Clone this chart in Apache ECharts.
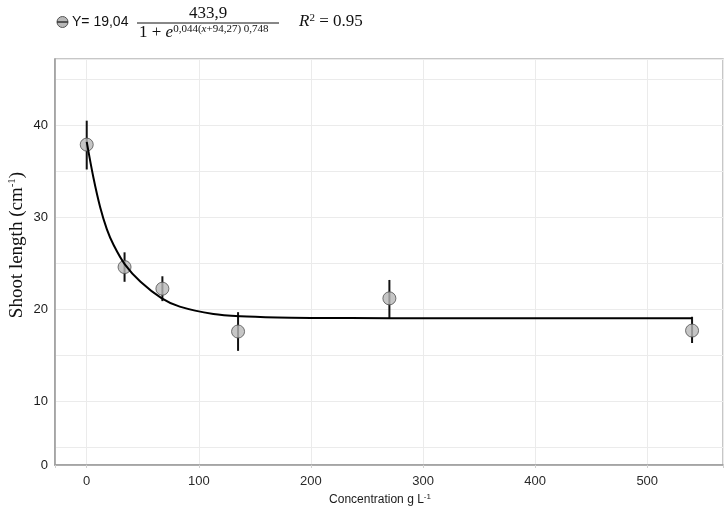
<!DOCTYPE html>
<html>
<head>
<meta charset="utf-8">
<script src="https://cdn.jsdelivr.net/npm/echarts@6/dist/echarts.min.js"></script>
<style>
  html, body { margin: 0; padding: 0; background: #ffffff; }
  #chart { width: 727px; height: 512px; }
</style>
</head>
<body>
<div id="chart"></div>
<script>
// Observed means and error bars
const concentration = [0, 33.75, 67.5, 135, 270, 540];
const shootLength   = [37.9, 24.6, 22.25, 17.6, 21.2, 17.7];
const errLow        = [35.2, 23.0, 20.9, 15.5, 19.0, 16.35];
const errHigh       = [40.5, 26.2, 23.6, 19.7, 23.2, 19.2];

// Fitted curve
const fitX = [0, 6, 12, 18, 24, 34, 48, 67, 83, 113, 137, 170, 200, 270, 400, 540];
const fitY = [38.2, 34.3, 31.1, 28.7, 27.0, 24.9, 23.0, 21.2, 20.3, 19.5, 19.25, 19.12, 19.08, 19.05, 19.04, 19.04];

const yMin = 3.1, yMax = 47.2;
const xMin = -28.3, xMax = 567.6;

const chart = echarts.init(document.getElementById('chart'), null, { renderer: 'canvas' });

const pointData = concentration.map((x, i) => [x, shootLength[i]]);
const errData = concentration.map((x, i) => [x, errLow[i], errHigh[i]]);
const fitData = fitX.map((x, i) => [x, fitY[i]]);

const option = {
  backgroundColor: '#ffffff',
  animation: false,
  grid: {
    left: 55, right: 4, top: 59, bottom: 47,
    outerBoundsMode: 'none',
    containLabel: false,
    show: true, borderColor: '#b5b5b5', borderWidth: 1.5, backgroundColor: '#ffffff'
  },
  xAxis: {
    type: 'value',
    min: xMin, max: xMax,
    splitNumber: 6,
    name: 'Concentration g L{sup|-1}',
    nameLocation: 'middle',
    nameGap: 26,
    nameTextStyle: {
      fontFamily: 'Liberation Sans Narrow, Liberation Sans, Arial', fontSize: 12, color: '#1a1a1a',
      padding: [0, 18, 0, 0],
      rich: { sup: { fontSize: 8, verticalAlign: 'top', padding: [0, 0, 6, 0], fontFamily: 'Liberation Sans', color: '#1a1a1a' } }
    },
    axisLine: { show: true, onZero: false, lineStyle: { color: '#9a9a9a', width: 1.5 } },
    axisTick: { show: true, length: 3, lineStyle: { color: '#d0d0d0', width: 1 } },
    axisLabel: {
      margin: 10, fontSize: 13, color: '#2a2a2a',
      fontFamily: 'Liberation Sans Narrow, Liberation Sans, Arial',
      showMinLabel: true, showMaxLabel: true,
      formatter: v => (Math.abs(v % 100) < 1e-6 ? String(v) : '')
    },
    splitLine: { show: true, lineStyle: { color: '#ebebeb', width: 1 } }
  },
  yAxis: {
    type: 'value',
    min: yMin, max: yMax,
    splitNumber: 9,
    name: 'Shoot length (cm{sup|-1})',
    nameLocation: 'middle',
    nameGap: 28,
    nameMoveOverlap: false,
    nameTextStyle: {
      fontFamily: 'Liberation Serif, Times New Roman, serif', fontSize: 19, color: '#111111',
      padding: [0, 0, 0, 34],
      rich: { sup: { fontFamily: 'Liberation Serif', fontSize: 11, verticalAlign: 'top', padding: [0, 0, 9, 0], color: '#111111' } }
    },
    axisLine: { show: true, onZero: false, lineStyle: { color: '#9a9a9a', width: 1.5 } },
    axisTick: { show: false },
    axisLabel: {
      margin: 7, fontSize: 13, color: '#1a1a1a',
      fontFamily: 'Liberation Sans Narrow, Liberation Sans, Arial',
      showMinLabel: true, showMaxLabel: true,
      formatter: v => {
        if (Math.abs(v - yMin) < 1e-6) return '0';
        return Math.abs(v % 10) < 1e-6 ? String(v) : '';
      }
    },
    splitLine: { show: true, lineStyle: { color: '#ebebeb', width: 1 } }
  },
  series: [
    {
      type: 'custom',
      name: 'error',
      data: errData,
      z: 2,
      renderItem: (params, api) => {
        const p1 = api.coord([api.value(0), api.value(1)]);
        const p2 = api.coord([api.value(0), api.value(2)]);
        return {
          type: 'line',
          shape: { x1: p1[0], y1: p1[1], x2: p2[0], y2: p2[1] },
          style: { stroke: '#111111', lineWidth: 2 }
        };
      }
    },
    {
      type: 'scatter',
      name: 'means',
      data: pointData,
      symbol: 'circle',
      symbolSize: 13,
      z: 3,
      itemStyle: { color: '#b8b8b8', borderColor: '#505050', borderWidth: 1 }
    },
    {
      type: 'line',
      name: 'fit',
      data: fitData,
      smooth: 0.3,
      showSymbol: false,
      z: 4,
      lineStyle: { color: '#000000', width: 2 }
    }
  ],
  graphic: [
    // legend key
    { type: 'circle', shape: { cx: 62.5, cy: 22, r: 5.5 }, style: { fill: '#b8b8b8', stroke: '#555555', lineWidth: 1 }, z: 10 },
    { type: 'line', shape: { x1: 57, y1: 22, x2: 68, y2: 22 }, style: { stroke: '#333333', lineWidth: 1.5 }, z: 11 },
    { type: 'text', x: 72, y: 22, z: 10,
      style: { text: 'Y= 19,04', fontFamily: 'Liberation Sans, Arial', fontSize: 14, fill: '#111111', verticalAlign: 'middle', align: 'left' } },
    { type: 'text', x: 208, y: 14, z: 10,
      style: { text: '433,9', fontFamily: 'Liberation Serif, serif', fontSize: 17, fill: '#111111', verticalAlign: 'middle', align: 'center' } },
    { type: 'line', shape: { x1: 137, y1: 23, x2: 279, y2: 23 }, style: { stroke: '#111111', lineWidth: 1 }, z: 10 },
    { type: 'text', x: 139, y: 33, z: 10,
      style: {
        text: '{n|1 + }{i|e}{e|0,044(}{ei|x}{e|+94,27) 0,748}',
        verticalAlign: 'middle', align: 'left', fill: '#111111',
        rich: {
          n: { fontFamily: 'Liberation Serif, serif', fontSize: 17, fill: '#111111' },
          i: { fontFamily: 'Liberation Serif, serif', fontSize: 17, fontStyle: 'italic', fill: '#111111' },
          e: { fontFamily: 'Liberation Serif, serif', fontSize: 11, fill: '#111111', verticalAlign: 'top', padding: [0, 0, 8, 0] },
          ei: { fontFamily: 'Liberation Serif, serif', fontSize: 11, fontStyle: 'italic', fill: '#111111', verticalAlign: 'top', padding: [0, 0, 8, 0] }
        }
      } },
    { type: 'text', x: 299, y: 22, z: 10,
      style: {
        text: '{i|R}{s|2}{n| = 0.95}',
        verticalAlign: 'middle', align: 'left', fill: '#111111',
        rich: {
          i: { fontFamily: 'Liberation Serif, serif', fontSize: 17, fontStyle: 'italic', fill: '#111111' },
          s: { fontFamily: 'Liberation Serif, serif', fontSize: 11, fill: '#111111', verticalAlign: 'top', padding: [0, 0, 8, 0] },
          n: { fontFamily: 'Liberation Serif, serif', fontSize: 17, fill: '#111111' }
        }
      } }
  ]
};

chart.setOption(option);
</script>
</body>
</html>
